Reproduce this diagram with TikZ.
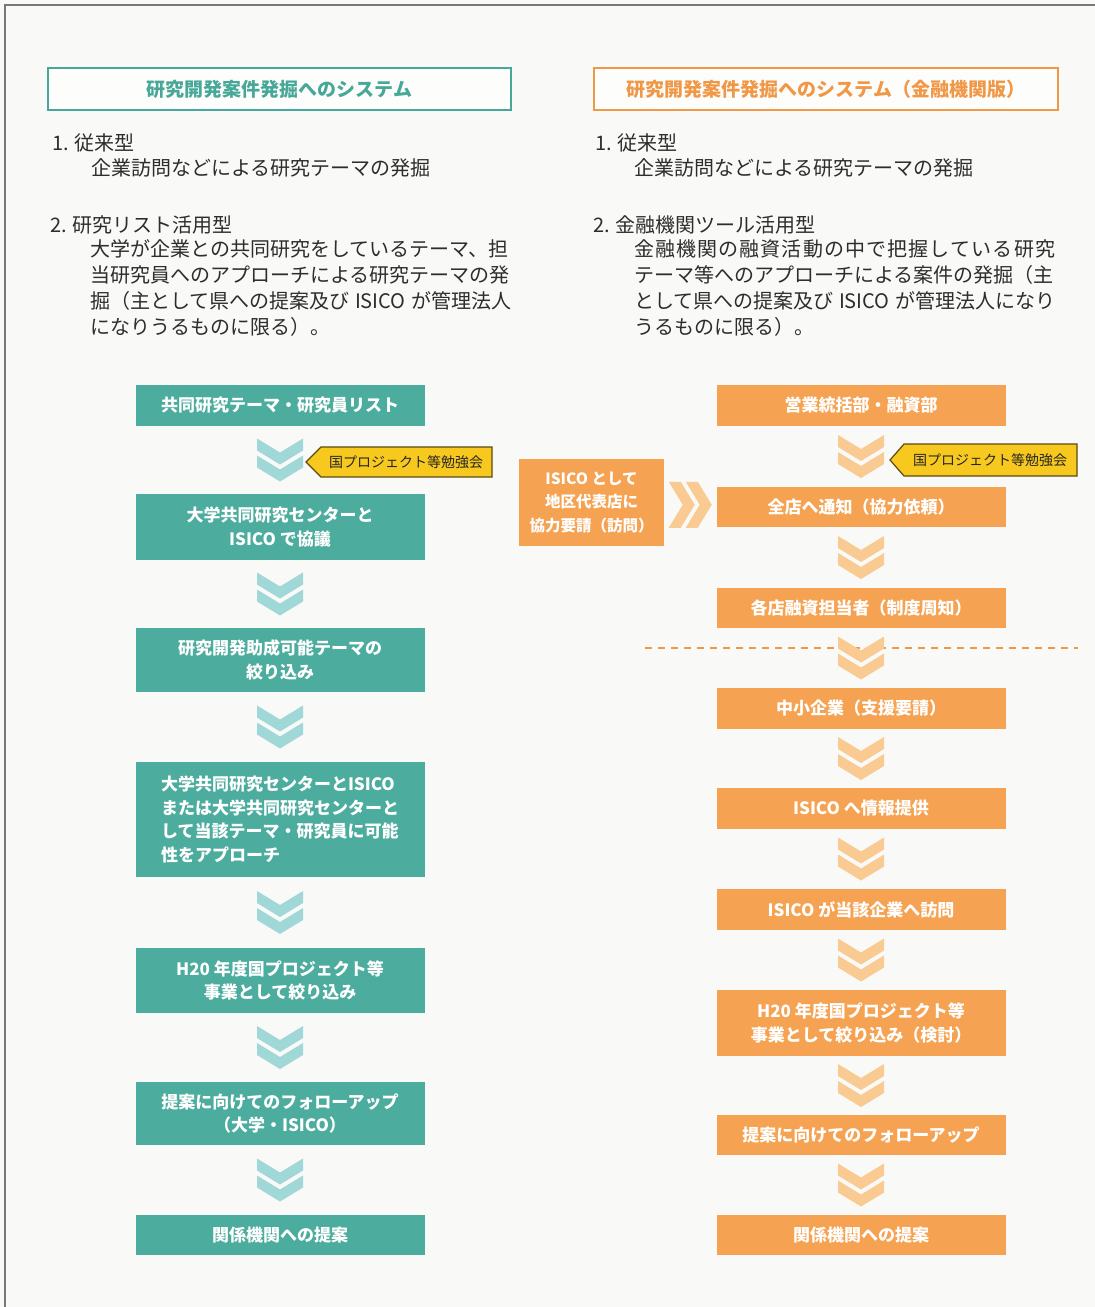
\documentclass[tikz,border=0pt]{standalone}
\usepackage{fontspec}
\setmainfont{Noto Sans CJK JP}
\XeTeXlinebreaklocale "ja"
\XeTeXlinebreakskip=0pt plus 2pt
\usetikzlibrary{calc}
\definecolor{bgc}{RGB}{249,249,247}
\definecolor{tealbox}{RGB}{76,172,158}
\definecolor{tealchev}{RGB}{160,215,215}
\definecolor{tealhead}{RGB}{72,168,152}
\definecolor{orgbox}{RGB}{245,163,82}
\definecolor{orgchev}{RGB}{249,202,145}
\definecolor{orghead}{RGB}{240,152,70}
\definecolor{tagyel}{RGB}{247,200,30}
\definecolor{tagedge}{RGB}{90,75,20}
\definecolor{bodytxt}{RGB}{45,45,45}
\definecolor{framec}{RGB}{120,120,120}
\tikzset{
  flowbox/.style={rectangle, inner sep=0pt, minimum width=289pt, text=white, align=center,
    font=\fontsize{17}{23.5}\selectfont\bfseries},
  tbox/.style={flowbox, fill=tealbox},
  obox/.style={flowbox, fill=orgbox},
  headbox/.style={rectangle, draw, line width=1.6pt, fill=white!60!bgc, inner sep=0pt,
    minimum height=42pt, font=\fontsize{19}{23}\selectfont\bfseries},
  bodyline/.style={anchor=west, inner sep=0pt, text=bodytxt, font=\fontsize{20}{26}\selectfont},
  tagtext/.style={inner sep=0pt, text=black!85, font=\fontsize{14}{16}\selectfont},
  tagshape/.style={fill=tagyel, draw=tagedge, line width=1.2pt, line join=miter},
  dchev/.pic={
    \fill[#1] (-23,-21.5) -- (0,-7.5) -- (23,-21.5) -- (23,-9.5) -- (0,4.5) -- (-23,-9.5) -- cycle;
    \fill[#1] (-23,-4.5) -- (0,9.5) -- (23,-4.5) -- (23,7.5) -- (0,21.5) -- (-23,7.5) -- cycle;
  }
}
\newcommand{\jline}[1]{\makebox[421pt][s]{#1}}
\newcommand{\gp}{\hfill}
\begin{document}
\begin{tikzpicture}[x=1pt,y=-1pt]
\useasboundingbox (0,0) rectangle (1095,1307);
\fill[bgc] (0,0) rectangle (1095,1307);
\draw[framec, line width=1.2pt] (5,1307) -- (5,5) -- (1095,5);

% headers
\node[headbox, draw=tealhead, text=tealhead, minimum width=463pt] (HL) at (279.5,89) {研究開発案件発掘へのシステム};
\node[headbox, draw=orghead, text=orghead, minimum width=464pt] (HR) at (826,89) {研究開発案件発掘へのシステム（金融機関版）};

% left description
\node[bodyline] (tl1) at (52,143) {1. 従来型};
\node[bodyline] (tl2) at (91,168) {企業訪問などによる研究テーマの発掘};
\node[bodyline] (tl3) at (50,225) {2. 研究リスト活用型};
\node[bodyline] (tl4) at (90,249) {\jline{大学が企業との共同研究をしているテーマ、担}};
\node[bodyline] (tl5) at (90,275) {\jline{当研究員へのアプローチによる研究テーマの発}};
\node[bodyline] (tl6) at (90,301) {\jline{掘（主として県への提案及び ISICO が管理法人}};
\node[bodyline] (tl7) at (90,327) {になりうるものに限る）。};

% right description
\node[bodyline] (tr1) at (595,143) {1. 従来型};
\node[bodyline] (tr2) at (634,168) {企業訪問などによる研究テーマの発掘};
\node[bodyline] (tr3) at (593,225) {2. 金融機関ツール活用型};
\node[bodyline] (tr4) at (634,249) {\makebox[421pt][s]{金{\gp}融{\gp}機{\gp}関{\gp}の{\gp}融{\gp}資{\gp}活{\gp}動{\gp}の{\gp}中{\gp}で{\gp}把{\gp}握{\gp}し{\gp}て{\gp}い{\gp}る{\gp}研{\gp}究}};
\node[bodyline] (tr5) at (634,275) {\jline{テーマ等へのアプローチによる案件の発掘（主}};
\node[bodyline] (tr6) at (634,301) {\jline{として県への提案及び ISICO が管理法人になり}};
\node[bodyline] (tr7) at (634,327) {うるものに限る）。};

% left flow
\node[tbox, minimum height=41pt] (L1) at (280,405.5) {共同研究テーマ・研究員リスト};
\node[tbox, minimum height=66pt] (L2) at (280,527) {大学共同研究センターと\\ISICO で協議};
\node[tbox, minimum height=64pt] (L3) at (280,660) {研究開発助成可能テーマの\\絞り込み};
\node[tbox, minimum height=115pt, align=left] (L4) at (280,819.5) {大学共同研究センターとISICO\\または大学共同研究センターと\\して当該テーマ・研究員に可能\\性をアプローチ};
\node[tbox, minimum height=65pt] (L5) at (280,980.5) {H20 年度国プロジェクト等\\事業として絞り込み};
\node[tbox, minimum height=63pt] (L6) at (280,1113.5) {提案に向けてのフォローアップ\\（大学・ISICO）};
\node[tbox, minimum height=40pt] (L7) at (280,1235) {関係機関への提案};

\foreach \a/\b in {L1/L2,L2/L3,L3/L4,L4/L5,L5/L6,L6/L7}{
  \path (\a.south) -- (\b.north) coordinate[midway] (m\a);
  \pic at (m\a) {dchev=tealchev};
}

% left tag
\filldraw[tagshape] (306,462) -- (321,447) -- (492,447) -- (492,477) -- (321,477) -- cycle;
\node[tagtext] (TL) at (406,462) {国プロジェクト等勉強会};

% right flow
\node[obox, minimum height=41pt] (R1) at (861,405.5) {営業統括部・融資部};
\node[obox, minimum height=40pt] (R2) at (861,507) {全店へ通知（協力依頼）};
\node[obox, minimum height=40pt] (R3) at (861,608) {各店融資担当者（制度周知）};
\node[obox, minimum height=41pt] (R4) at (861,708.5) {中小企業（支援要請）};
\node[obox, minimum height=41pt] (R5) at (861,808.5) {ISICO へ情報提供};
\node[obox, minimum height=41pt] (R6) at (861,909.5) {ISICO が当該企業へ訪問};
\node[obox, minimum height=66pt] (R7) at (861,1023) {H20 年度国プロジェクト等\\事業として絞り込み（検討）};
\node[obox, minimum height=40pt] (R8) at (861,1135) {提案に向けてのフォローアップ};
\node[obox, minimum height=40pt] (R9) at (861,1235) {関係機関への提案};

\node[obox, minimum width=145pt, minimum height=87pt, font=\fontsize{15.5}{23.5}\selectfont\bfseries] (S) at (591.5,502.5) {ISICO として\\地区代表店に\\協力要請（訪問）};

% dashed separator
\draw[orghead, line width=1.5pt, dash pattern=on 7pt off 6pt] (645,648) -- (1078,648);

\foreach \a/\b in {R1/R2,R2/R3,R3/R4,R4/R5,R5/R6,R6/R7,R7/R8,R8/R9}{
  \path (\a.south) -- (\b.north) coordinate[midway] (m\a);
  \pic at (m\a) {dchev=orgchev};
}
\path (S.east) -- (R2.west) coordinate[midway] (mS);
\pic[rotate=90] at (mS) {dchev=orgchev};

% right tag
\filldraw[tagshape] (890,460) -- (904,444) -- (1077,444) -- (1077,476) -- (904,476) -- cycle;
\node[tagtext] (TR) at (990,460) {国プロジェクト等勉強会};
\end{tikzpicture}
\end{document}
